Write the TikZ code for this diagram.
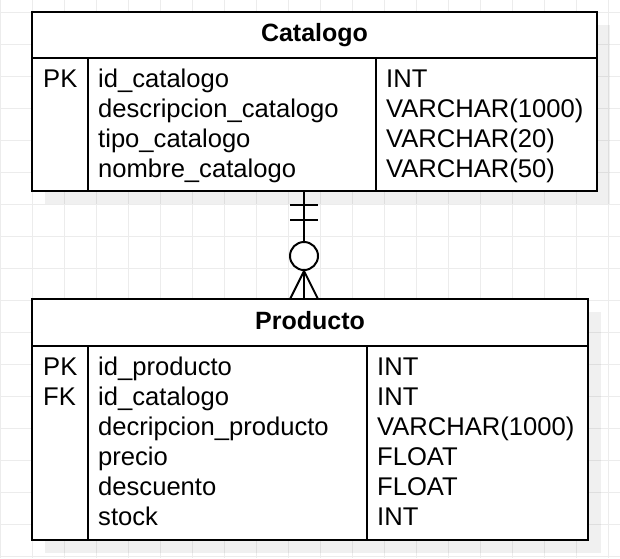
\documentclass[tikz,border=0pt]{standalone}
\usepackage{fontspec}
\setmainfont{Liberation Sans}
\usetikzlibrary{shadows}
\definecolor{gridgray}{RGB}{236,236,236}

\begin{document}
\begin{tikzpicture}[x=1pt,y=-1pt,
    gridline/.style={gridgray,line width=1pt},
    tline/.style={line width=2pt},
    tablebox/.style={draw,fill=white,line width=2pt,inner sep=0pt,outer sep=0pt,
        drop shadow={shadow xshift=13pt,shadow yshift=-13pt,fill=black,opacity=0.06}},
    cell/.style={anchor=base west,inner sep=0pt,font=\fontsize{25.6}{30}\selectfont},
    headtext/.style={anchor=base,inner sep=0pt,font=\fontsize{25}{30}\selectfont\bfseries}]

\useasboundingbox[fill=white] (0,0) rectangle (620,558);

% Grid
\foreach \gx in {0,32,...,608} \draw[gridline] (\gx+0.5,0) -- (\gx+0.5,558);
\foreach \gy in {12,44,...,556} \draw[gridline] (0,\gy+0.5) -- (620,\gy+0.5);

% Catalogo
\node[tablebox,minimum width=565pt,minimum height=179pt] (catalogo) at (314.5,101.5) {};
\node[headtext] (cattitle) at (314.5,41) {Catalogo};
\draw[tline] (32,58) -- (597,58);
\draw[tline] (88,58) -- (88,191);
\draw[tline] (376,58) -- (376,191);

\node[cell] (catkey) at (43,87) {PK};
\foreach \field/\type [count=\i] in {id\_catalogo/INT,
    descripcion\_catalogo/VARCHAR(1000), tipo\_catalogo/VARCHAR(20),
    nombre\_catalogo/VARCHAR(50)}{
  \node[cell] (catfield\i) at (98,57+30*\i) {\field};
  \node[cell] (cattype\i) at (386,57+30*\i) {\type};
}

% Producto
\node[tablebox,minimum width=556pt,minimum height=241pt] (producto) at (310,419.5) {};
\node[headtext] (prodtitle) at (310,329) {Producto};
\draw[tline] (32,346) -- (588,346);
\draw[tline] (88,346) -- (88,540);
\draw[tline] (367,346) -- (367,540);

\node[cell] (prodpk) at (43,375) {PK};
\node[cell] (prodfk) at (43,405) {FK};
\foreach \field/\type [count=\i] in {id\_producto/INT, id\_catalogo/INT,
    decripcion\_producto/VARCHAR(1000), precio/FLOAT, descuento/FLOAT,
    stock/INT}{
  \node[cell] (prodfield\i) at (98,345+30*\i) {\field};
  \node[cell] (prodtype\i) at (377,345+30*\i) {\type};
}

% Relation
\coordinate (relx) at (304,0);
\draw[tline] (catalogo.south -| relx) -- (producto.north -| relx);
\draw[tline] (290,205) -- (318,205);
\draw[tline] (290,220) -- (318,220);
\draw[tline,fill=white] (304,256) circle[radius=14];
\draw[tline] (290,299) -- (304,271) -- (318,299);

\end{tikzpicture}
\end{document}
